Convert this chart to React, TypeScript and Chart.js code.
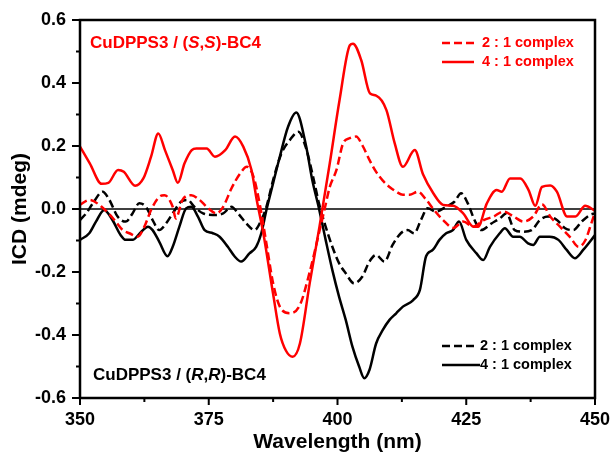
import React, { useEffect, useRef } from "react";
import { Chart, registerables } from "chart.js";

Chart.register(...registerables);

const FONT = '"Liberation Sans", Arial, Helvetica, sans-serif';
const RED = "#ff0000";
const BLACK = "#000000";

// Axis ticks
const xMajorTicks = [350, 375, 400, 425, 450];
const xMinorTicks = [362.5, 387.5, 412.5, 437.5];
const yMajorTicks = [-0.6, -0.4, -0.2, 0, 0.2, 0.4, 0.6];
const yMinorTicks = [-0.5, -0.3, -0.1, 0.1, 0.3, 0.5];

// CuDPPS3 / (S,S)-BC4, 4:1 complex
const ssWl4 = [350, 351.9, 354.2, 355.5, 357.4, 358.5, 360.7, 362.3, 363.8, 365.2, 366.5, 368, 369, 370.3, 371.7, 372.6, 374.6, 376.2, 378.2, 380.1, 381.7, 383.3, 384.3, 385.6, 387.5, 388.8, 390, 391.3, 392.7, 394.6, 396.5, 398.5, 400.4, 402.4, 403, 404.6, 406.3, 407.5, 409.5, 411.1, 412.7, 415, 416.6, 418.6, 420.5, 422.5, 424.4, 426.4, 427.3, 429, 430.9, 431.9, 433.5, 435.5, 437.1, 438.4, 439.7, 441.3, 442.6, 444.6, 446.2, 448.1, 450];
const ss4 = [0.198, 0.145, 0.08, 0.083, 0.124, 0.118, 0.074, 0.097, 0.166, 0.24, 0.187, 0.124, 0.083, 0.145, 0.187, 0.192, 0.192, 0.166, 0.187, 0.23, 0.198, 0.124, 0.03, -0.077, -0.27, -0.395, -0.45, -0.469, -0.427, -0.236, -0.056, 0.145, 0.346, 0.52, 0.525, 0.473, 0.367, 0.36, 0.314, 0.209, 0.134, 0.187, 0.11, 0.05, 0.013, 0.01, -0.014, -0.056, -0.056, 0.018, 0.06, 0.055, 0.097, 0.097, 0.06, 0.01, 0.07, 0.075, 0.055, -0.024, -0.024, 0.01, -0.006];

// CuDPPS3 / (S,S)-BC4, 2:1 complex
const ssWl2 = [350, 351.8, 354.4, 356.7, 358.3, 359.6, 361.2, 362.5, 363.8, 365.4, 366.4, 368, 368.6, 369.9, 371.6, 373.2, 374.8, 376.5, 377.8, 379.4, 381.1, 382.4, 383.7, 385, 386.3, 387.5, 388.8, 390.8, 392.7, 394.6, 396.5, 397.5, 398.5, 399.8, 401.1, 402.4, 403.6, 404.9, 406.2, 407.5, 408.8, 410.1, 411.4, 412.7, 414, 415.6, 417.2, 418.6, 420.5, 422.5, 424.4, 426.4, 428.4, 430.3, 432.2, 434.2, 436.1, 438, 439.7, 441.3, 443.2, 445.2, 446.8, 448.1, 449.4, 450];
const ss2 = [0.013, 0.029, 0.004, -0.035, -0.067, -0.077, -0.088, -0.056, -0.003, 0.039, 0.044, 0.007, -0.03, 0.029, 0.044, 0.029, 0.004, -0.014, 0.007, 0.065, 0.113, 0.134, 0.102, 0.007, -0.12, -0.236, -0.31, -0.331, -0.305, -0.2, -0.07, 0.0, 0.07, 0.124, 0.209, 0.225, 0.23, 0.2, 0.156, 0.118, 0.09, 0.07, 0.055, 0.045, 0.045, 0.055, 0.03, 0.0, -0.035, -0.06, -0.04, -0.056, -0.035, -0.024, -0.008, -0.024, -0.04, -0.024, 0.015, -0.024, -0.056, -0.09, -0.12, -0.1, -0.04, -0.01];

// CuDPPS3 / (R,R)-BC4, 4:1 complex
const rrWl4 = [350, 351.8, 353.1, 354.7, 356.3, 357.9, 358.9, 360.2, 361.9, 363.2, 364.1, 365.4, 367, 368, 369.3, 370.6, 371.6, 372.9, 374.2, 375.8, 377.1, 378.7, 380, 381.3, 382.9, 384.2, 385.2, 386.2, 387.5, 388.8, 390.4, 392, 393.8, 395.1, 396.4, 397.7, 399, 400.3, 401.6, 402.9, 404.2, 405.2, 406.2, 407.5, 408.8, 410.1, 411.4, 412.7, 414.7, 416, 417.2, 418.5, 419.8, 421.1, 422.4, 423.6, 425, 427, 428.3, 429.6, 431.5, 432.5, 434.1, 435.4, 437, 438, 439.3, 441.2, 442.9, 444.5, 446.1, 447.7, 450];
const rr4 = [-0.098, -0.077, -0.04, -0.003, -0.035, -0.083, -0.098, -0.098, -0.072, -0.056, -0.067, -0.104, -0.15, -0.12, -0.056, 0.002, 0.007, -0.024, -0.067, -0.077, -0.088, -0.12, -0.15, -0.167, -0.141, -0.12, -0.077, -0.003, 0.082, 0.166, 0.261, 0.306, 0.208, 0.092, 0.002, -0.098, -0.194, -0.278, -0.352, -0.437, -0.5, -0.537, -0.511, -0.427, -0.384, -0.352, -0.331, -0.31, -0.289, -0.257, -0.15, -0.13, -0.098, -0.077, -0.067, -0.04, -0.098, -0.141, -0.162, -0.12, -0.077, -0.061, -0.088, -0.088, -0.109, -0.114, -0.088, -0.088, -0.098, -0.13, -0.156, -0.13, -0.083];

// CuDPPS3 / (R,R)-BC4, 2:1 complex
const rrWl2 = [350, 351.2, 352.5, 354.4, 355.7, 357.3, 358.9, 360.2, 361.5, 362.8, 364.1, 365.4, 366.7, 368, 369.6, 370.9, 372.2, 373.9, 375.8, 377.8, 379.4, 380.7, 382.3, 383.9, 385.2, 386.2, 387.5, 389.1, 390.8, 392.4, 393.8, 395.4, 396.4, 397.7, 399, 400.3, 401.6, 403.2, 404.8, 406.2, 407.5, 409.1, 410.7, 412.3, 413.6, 414.9, 416.2, 417.5, 419.1, 421.1, 422.7, 424, 425.3, 426.6, 427.9, 429.9, 431.5, 432.8, 434.4, 436, 437.7, 439.3, 440.9, 442.6, 444.2, 445.8, 447.4, 449, 450];
const rr2 = [-0.035, -0.014, 0.018, 0.055, 0.029, -0.024, -0.04, -0.014, 0.018, 0.007, -0.035, -0.067, -0.046, -0.014, 0.023, 0.029, 0.007, -0.014, -0.019, -0.014, 0.007, -0.014, -0.046, -0.067, -0.035, 0.007, 0.092, 0.176, 0.22, 0.245, 0.198, 0.092, 0.018, -0.056, -0.12, -0.172, -0.204, -0.236, -0.215, -0.167, -0.146, -0.167, -0.114, -0.077, -0.067, -0.077, -0.035, 0.002, -0.008, 0.007, 0.023, 0.05, 0.018, -0.035, -0.067, -0.046, -0.03, -0.014, -0.067, -0.072, -0.067, -0.035, -0.024, -0.035, -0.061, -0.067, -0.04, -0.019, -0.014];

const legendLabels = ["2 : 1 complex", "4 : 1 complex"];
const ssLabelParts: [string, boolean][] = [["CuDPPS3 / (", false], ["S", true], [",", false], ["S", true], [")-BC4", false]];
const rrLabelParts: [string, boolean][] = [["CuDPPS3 / (", false], ["R", true], [",", false], ["R", true], [")-BC4", false]];
const xTitle = "Wavelength (nm)";
const yTitle = "ICD (mdeg)";

const DASH = [8, 4];

function pts(xs: number[], ys: number[]) {
  return xs.map((x, i) => ({ x, y: ys[i] }));
}

function drawRich(ctx: CanvasRenderingContext2D, parts: [string, boolean][], x: number, y: number, color: string, size: number) {
  ctx.save();
  ctx.fillStyle = color;
  ctx.textBaseline = "middle";
  ctx.textAlign = "left";
  let cx = x;
  for (const [t, it] of parts) {
    ctx.font = `${it ? "italic " : ""}bold ${size}px ${FONT}`;
    ctx.fillText(t, cx, y);
    cx += ctx.measureText(t).width;
  }
  ctx.restore();
}

function drawLegend(ctx: CanvasRenderingContext2D, x0: number, y0: number, gap: number, color: string, solidLen: number, textX: number) {
  ctx.save();
  ctx.strokeStyle = color;
  ctx.lineWidth = 2.5;
  ctx.lineCap = "butt";
  ctx.setLineDash(DASH);
  ctx.beginPath();
  ctx.moveTo(x0, y0);
  ctx.lineTo(x0 + 32, y0);
  ctx.stroke();
  ctx.setLineDash([]);
  ctx.beginPath();
  ctx.moveTo(x0, y0 + gap);
  ctx.lineTo(x0 + solidLen, y0 + gap);
  ctx.stroke();
  ctx.fillStyle = color;
  ctx.font = `bold 14.5px ${FONT}`;
  ctx.textBaseline = "middle";
  ctx.textAlign = "left";
  ctx.fillText(legendLabels[0], textX, y0);
  ctx.fillText(legendLabels[1], textX, y0 + gap);
  ctx.restore();
}

const decorPlugin = {
  id: "decor",
  beforeDatasetsDraw(chart: any) {
    const { ctx, chartArea, scales } = chart;
    const y0 = scales.y.getPixelForValue(0);
    ctx.save();
    ctx.strokeStyle = BLACK;
    ctx.lineWidth = 1.5;
    ctx.beginPath();
    ctx.moveTo(chartArea.left, y0);
    ctx.lineTo(chartArea.right, y0);
    ctx.stroke();
    ctx.restore();
  },
  afterDraw(chart: any) {
    const { ctx, chartArea, scales } = chart;
    const { left, right, top, bottom } = chartArea;
    ctx.save();
    ctx.strokeStyle = BLACK;
    ctx.lineWidth = 2.5;
    ctx.strokeRect(left, top, right - left, bottom - top);
    ctx.lineWidth = 2;
    ctx.beginPath();
    for (const v of xMajorTicks) {
      const px = scales.x.getPixelForValue(v);
      ctx.moveTo(px, bottom);
      ctx.lineTo(px, bottom + 7);
    }
    for (const v of xMinorTicks) {
      const px = scales.x.getPixelForValue(v);
      ctx.moveTo(px, bottom);
      ctx.lineTo(px, bottom + 4);
    }
    for (const v of yMajorTicks) {
      const py = scales.y.getPixelForValue(v);
      ctx.moveTo(left, py);
      ctx.lineTo(left - 8, py);
    }
    for (const v of yMinorTicks) {
      const py = scales.y.getPixelForValue(v);
      ctx.moveTo(left, py);
      ctx.lineTo(left - 4, py);
    }
    ctx.stroke();
    ctx.restore();

    drawRich(ctx, ssLabelParts, left + 10, top + 23, RED, 17);
    drawRich(ctx, rrLabelParts, left + 13, bottom - 23, BLACK, 17);
    drawLegend(ctx, right - 153, top + 23, 19, RED, 32, right - 113);
    drawLegend(ctx, right - 153, bottom - 52, 19, BLACK, 38, right - 115);
  },
};

export default function App() {
  const ref = useRef<HTMLCanvasElement | null>(null);
  useEffect(() => {
    if (!ref.current) return;
    const common = { pointRadius: 0, borderWidth: 2.5, fill: false, cubicInterpolationMode: "monotone" as const };
    const chart = new Chart(ref.current, {
      type: "line",
      data: {
        datasets: [
          { ...common, label: "(S,S) 4:1", data: pts(ssWl4, ss4), borderColor: RED },
          { ...common, label: "(S,S) 2:1", data: pts(ssWl2, ss2), borderColor: RED, borderDash: DASH },
          { ...common, label: "(R,R) 4:1", data: pts(rrWl4, rr4), borderColor: BLACK },
          { ...common, label: "(R,R) 2:1", data: pts(rrWl2, rr2), borderColor: BLACK, borderDash: DASH },
        ],
      },
      options: {
        responsive: false,
        animation: false,
        devicePixelRatio: 1,
        layout: { padding: { top: 20, right: 16, left: 0, bottom: 0 } },
        plugins: { legend: { display: false }, tooltip: { enabled: false } },
        scales: {
          x: {
            type: "linear",
            min: 350,
            max: 450,
            afterBuildTicks: (s: any) => { s.ticks = xMajorTicks.map((v) => ({ value: v })); },
            afterFit: (s: any) => { s.height = 54; s.paddingLeft = 0; s.paddingRight = 0; },
            ticks: { color: BLACK, font: { family: FONT, size: 18, weight: "bold" }, padding: 11, maxRotation: 0, autoSkip: false, callback: (v: any) => String(v) },
            grid: { display: false, drawTicks: false },
            border: { display: false },
            title: { display: true, text: xTitle, color: BLACK, font: { family: FONT, size: 21, weight: "bold" }, padding: { top: -3, bottom: -3 } },
          },
          y: {
            type: "linear",
            min: -0.6,
            max: 0.6,
            afterBuildTicks: (s: any) => { s.ticks = yMajorTicks.map((v) => ({ value: v })); },
            afterFit: (s: any) => { s.width = 80; s.paddingTop = 0; s.paddingBottom = 0; },
            ticks: { color: BLACK, font: { family: FONT, size: 18, weight: "bold" }, padding: 14, autoSkip: false, callback: (v: any) => Number(v).toFixed(1) },
            grid: { display: false, drawTicks: false },
            border: { display: false },
            title: { display: true, text: yTitle, color: BLACK, font: { family: FONT, size: 21, weight: "bold" }, padding: { top: 8, bottom: 0 } },
          },
        },
      },
      plugins: [decorPlugin],
    } as any);
    return () => chart.destroy();
  }, []);
  return (
    <div style={{ position: "absolute", left: 0, top: 0, width: 611, height: 452, background: "#fff" }}>
      <canvas ref={ref} width={611} height={452} style={{ display: "block" }} />
    </div>
  );
}
